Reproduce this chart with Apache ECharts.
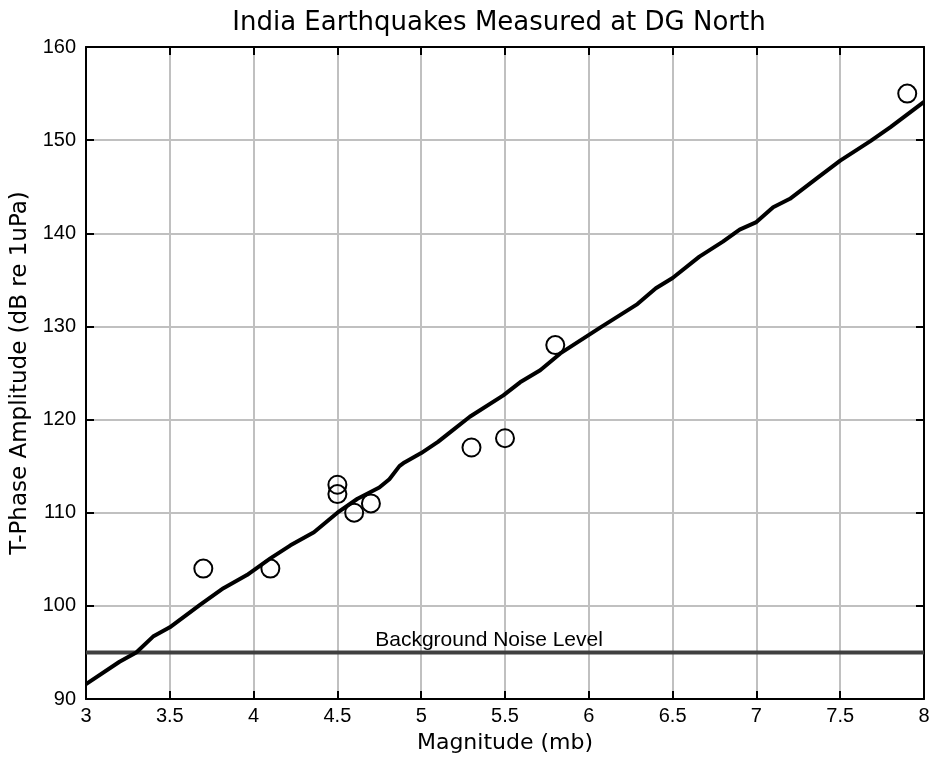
<!DOCTYPE html>
<html>
<head>
<meta charset="utf-8">
<script src="https://cdn.jsdelivr.net/npm/echarts@6/dist/echarts.min.js"></script>
<style>
  html, body { margin: 0; padding: 0; background: #fff; }
  #chart { width: 933px; height: 759px; }
</style>
</head>
<body>
<div id="chart"></div>
<script>
// measured quakes (magnitude, dB)
var quakeMag = [3.7, 4.1, 4.5, 4.5, 4.6, 4.7, 5.3, 5.5, 5.8, 7.9];
var quakeAmp = [104, 104, 113, 112, 110, 111, 117, 118, 128, 155];

// fitted curve
var fitMag = [3.0, 3.2, 3.3, 3.4, 3.5, 3.68, 3.82, 3.96, 4.1, 4.22, 4.36, 4.5, 4.62, 4.75, 4.81, 4.87, 4.9, 5.0, 5.1, 5.17, 5.29, 5.49, 5.59, 5.71, 5.83, 6.07, 6.29, 6.4, 6.5, 6.66, 6.8, 6.9, 7.0, 7.1, 7.2, 7.36, 7.5, 7.68, 7.8, 8.0];
var fitAmp = [91.6, 94.0, 95.0, 96.7, 97.7, 100.1, 101.9, 103.3, 105.1, 106.5, 107.9, 110.0, 111.5, 112.7, 113.6, 115.0, 115.4, 116.4, 117.6, 118.6, 120.3, 122.6, 124.0, 125.3, 127.1, 129.9, 132.4, 134.1, 135.2, 137.5, 139.1, 140.4, 141.2, 142.8, 143.7, 145.9, 147.8, 149.9, 151.4, 154.1];

var noiseLevel = 95;
var noiseLabel = 'Background Noise Level';
var noiseLabelAt = 5.405;

var chart = echarts.init(document.getElementById('chart'));
var font = 'Liberation Sans, Arial, sans-serif';
var wideFont = 'DejaVu Sans, sans-serif';

var scatterData = quakeMag.map(function (m, i) { return [m, quakeAmp[i]]; });
var fitData = fitMag.map(function (m, i) { return [m, fitAmp[i]]; });

var frameAxis = {
  axisLine: { show: true, onZero: false, lineStyle: { color: '#000', width: 2 } },
  axisTick: { show: true, inside: true, length: 8, lineStyle: { color: '#000', width: 2 } }
};

var option = {
  animation: false,
  backgroundColor: '#fff',
  title: {
    text: 'India Earthquakes Measured at DG North',
    left: 494, top: 5, textAlign: 'center',
    textStyle: { fontFamily: wideFont, fontSize: 26, fontWeight: 'normal', color: '#000' }
  },
  grid: { left: 86, right: 9, top: 47, bottom: 54 },
  xAxis: [
    Object.assign({
      type: 'value', min: 3, max: 8, interval: 0.5,
      name: 'Magnitude (mb)', nameLocation: 'middle', nameGap: 33,
      nameTextStyle: { fontFamily: wideFont, fontSize: 22, color: '#000' },
      axisLabel: { fontFamily: font, fontSize: 20, color: '#000', margin: 7 },
      splitLine: { show: true, lineStyle: { color: '#c0c0c0', width: 2 } }
    }, frameAxis),
    Object.assign({
      type: 'value', min: 3, max: 8, interval: 0.5, position: 'top',
      axisLabel: { show: false }, splitLine: { show: false }
    }, frameAxis)
  ],
  yAxis: [
    Object.assign({
      type: 'value', min: 90, max: 160, interval: 10,
      name: 'T-Phase Amplitude (dB re 1uPa)', nameLocation: 'middle', nameGap: 51,
      nameTextStyle: { fontFamily: wideFont, fontSize: 23, color: '#000' },
      axisLabel: { fontFamily: font, fontSize: 20, color: '#000', margin: 10 },
      splitLine: { show: true, lineStyle: { color: '#c0c0c0', width: 2 } }
    }, frameAxis),
    Object.assign({
      type: 'value', min: 90, max: 160, interval: 10, position: 'right',
      axisLabel: { show: false }, splitLine: { show: false }
    }, frameAxis)
  ],
  series: [
    {
      type: 'line', name: 'noise', data: [[3, noiseLevel], [8, noiseLevel]],
      showSymbol: false, symbol: 'none',
      lineStyle: { color: '#404040', width: 4 },
      z: 3
    },
    {
      // the text above the noise line
      type: 'scatter', name: 'noiseLabel', data: [[noiseLabelAt, noiseLevel]],
      symbolSize: 0, silent: true,
      itemStyle: { opacity: 1 },
      label: { show: true, position: 'top', distance: 2, formatter: noiseLabel, color: '#000', fontSize: 21, fontFamily: font },
      z: 3
    },
    {
      type: 'line', name: 'fit', data: fitData,
      showSymbol: false, symbol: 'none',
      lineStyle: { color: '#000', width: 4 },
      z: 4
    },
    {
      type: 'scatter', name: 'quakes', data: scatterData,
      symbol: 'circle', symbolSize: 18,
      itemStyle: { color: 'rgba(0,0,0,0)', borderColor: '#000', borderWidth: 2, opacity: 1 },
      z: 5
    }
  ]
};

chart.setOption(option);
</script>
</body>
</html>
